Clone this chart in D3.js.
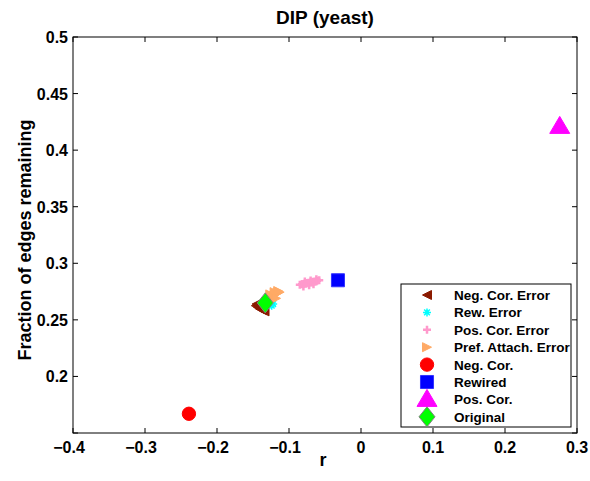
<!DOCTYPE html>
<html>
<head>
<meta charset="utf-8">
<script src="https://cdn.jsdelivr.net/npm/d3@7"></script>
<style>
  html, body { margin: 0; padding: 0; background: #fff; }
  svg text { font-family: "Liberation Sans", Arial, Helvetica, sans-serif; font-weight: bold; }
</style>
</head>
<body>
<svg id="chart" width="590" height="481"></svg>
<script>
// Assortativity r vs. fraction of edges remaining, DIP (yeast) network
const xTicks = [-0.4, -0.3, -0.2, -0.1, 0, 0.1, 0.2, 0.3];
const yTicks = [0.15, 0.2, 0.25, 0.3, 0.35, 0.4, 0.45, 0.5];
const yTickLabels = ["", "0.2", "0.25", "0.3", "0.35", "0.4", "0.45", "0.5"];

// error-model runs (many runs each, clustered)
const negCorErrR = [-0.146, -0.143, -0.140, -0.137, -0.134, -0.145, -0.139];
const negCorErrF = [0.2625, 0.2610, 0.2595, 0.2585, 0.2575, 0.2640, 0.2630];
const rewErrR = [-0.126, -0.124, -0.122, -0.128];
const rewErrF = [0.2635, 0.2625, 0.2640, 0.2650];
const posCorErrR = [-0.085, -0.082, -0.079, -0.076, -0.073, -0.070, -0.067, -0.064, -0.061, -0.058, -0.080, -0.072, -0.066, -0.078, -0.070, -0.062];
const posCorErrF = [0.2810, 0.2815, 0.2820, 0.2825, 0.2828, 0.2832, 0.2836, 0.2840, 0.2845, 0.2850, 0.2795, 0.2805, 0.2815, 0.2840, 0.2848, 0.2858];
const prefErrR = [-0.128, -0.125, -0.122, -0.119, -0.116, -0.113, -0.126, -0.120, -0.115, -0.124, -0.118];
const prefErrF = [0.2680, 0.2695, 0.2710, 0.2725, 0.2735, 0.2745, 0.2725, 0.2745, 0.2755, 0.2670, 0.2690];

// single-value models
const negCorR = [-0.239], negCorF = [0.167];
const rewiredR = [-0.032], rewiredF = [0.285];
const posCorR = [0.276], posCorF = [0.421];
const originalR = [-0.133], originalF = [0.265];

const legendLabels = ["Neg. Cor. Error", "Rew. Error", "Pos. Cor. Error", "Pref. Attach. Error",
                      "Neg. Cor.", "Rewired", "Pos. Cor.", "Original"];

const svg = d3.select("#chart");
const m = { left: 73, right: 577, top: 37, bottom: 433 };
const x = d3.scaleLinear().domain([-0.4, 0.3]).range([m.left, m.right]);
const y = d3.scaleLinear().domain([0.15, 0.5]).range([m.bottom, m.top]);

// marker shapes
const tri = (dir, s) => { // pointing left (-1) or right (+1)
  const h = s / 2;
  return `M${dir * h},0L${-dir * h},${-h}L${-dir * h},${h}Z`;
};
const plus = s => { const h = s / 2; return `M${-h},0L${h},0M0,${-h}L0,${h}`; };
const star = s => {
  const h = s / 2, d = h * 0.707;
  return `M${-h},0L${h},0M0,${-h}L0,${h}M${-d},${-d}L${d},${d}M${-d},${d}L${d},${-d}`;
};
const symPath = (type, size) => d3.symbol().type(type).size(size)();

const styles = [
  { path: tri(-1, 9), fill: "#8b1a00", stroke: "#8b1a00", sw: 1 },
  { path: star(8), fill: "none", stroke: "#00ffff", sw: 1.5 },
  { path: plus(8), fill: "none", stroke: "#ff99cc", sw: 2.5 },
  { path: tri(1, 9), fill: "#ffaa66", stroke: "#ffaa66", sw: 1 },
  { path: symPath(d3.symbolCircle, 140), fill: "#ff0000", stroke: "#ff0000", sw: 1 },
  { path: symPath(d3.symbolSquare, 170), fill: "#0000ff", stroke: "#3333ff", sw: 1 },
  { path: "M0,-10L10,7L-10,7Z", fill: "#ff00ff", stroke: "#ff00ff", sw: 1 },
  { path: "M0,-10L8,0L0,10L-8,0Z", fill: "#00ff00", stroke: "#808080", sw: 1 }
];

const series = [
  [negCorErrR, negCorErrF], [rewErrR, rewErrF], [posCorErrR, posCorErrF], [prefErrR, prefErrF],
  [negCorR, negCorF], [rewiredR, rewiredF], [posCorR, posCorF], [originalR, originalF]
];

// axes frame
svg.append("rect").attr("x", m.left).attr("y", m.top)
  .attr("width", m.right - m.left).attr("height", m.bottom - m.top)
  .attr("fill", "none").attr("stroke", "#000").attr("stroke-width", 1);

const tickLen = 5;
const axes = svg.append("g");
xTicks.forEach(t => {
  axes.append("line").attr("x1", x(t)).attr("x2", x(t)).attr("y1", m.bottom).attr("y2", m.bottom - tickLen).attr("stroke", "#000");
  axes.append("line").attr("x1", x(t)).attr("x2", x(t)).attr("y1", m.top).attr("y2", m.top + tickLen).attr("stroke", "#000");
  axes.append("text").attr("x", x(t) - (t < 0 ? 4 : 0)).attr("y", 453).attr("text-anchor", "middle")
    .attr("font-size", 16).text(t === 0 ? "0" : (t < 0 ? "\u2212" + Math.abs(t) : String(t)));
});
yTicks.forEach((t, i) => {
  axes.append("line").attr("x1", m.left).attr("x2", m.left + tickLen).attr("y1", y(t)).attr("y2", y(t)).attr("stroke", "#000");
  axes.append("line").attr("x1", m.right).attr("x2", m.right - tickLen).attr("y1", y(t)).attr("y2", y(t)).attr("stroke", "#000");
  axes.append("text").attr("x", m.left - 5).attr("y", y(t) + 6).attr("text-anchor", "end")
    .attr("font-size", 16).text(yTickLabels[i]);
});

// data markers
series.forEach(([rs, fs], i) => {
  const st = styles[i];
  svg.append("g").selectAll("path").data(rs.map((r, j) => [r, fs[j]])).join("path")
    .attr("transform", d => `translate(${x(d[0])},${y(d[1])})`)
    .attr("d", st.path).attr("fill", st.fill).attr("stroke", st.stroke).attr("stroke-width", st.sw);
});

// titles
svg.append("text").attr("x", (m.left + m.right) / 2).attr("y", 24).attr("text-anchor", "middle")
  .attr("font-size", 19).text("DIP (yeast)");
svg.append("text").attr("x", (m.left + m.right) / 2 - 2).attr("y", 466).attr("text-anchor", "middle")
  .attr("font-size", 18).text("r");
svg.append("text").attr("transform", `translate(31,240) rotate(-90)`)
  .attr("text-anchor", "middle").attr("font-size", 18).text("Fraction of edges remaining");

// legend
const lg = svg.append("g");
lg.append("rect").attr("x", 401).attr("y", 284).attr("width", 170).attr("height", 143)
  .attr("fill", "#fff").attr("stroke", "#000").attr("stroke-width", 1);
legendLabels.forEach((lab, i) => {
  const cy = 295 + i * 17.4;
  const st = styles[i];
  lg.append("path").attr("transform", `translate(427,${cy})`).attr("d", st.path)
    .attr("fill", st.fill).attr("stroke", st.stroke).attr("stroke-width", st.sw);
  lg.append("text").attr("x", 454).attr("y", cy + 5).attr("font-size", 13.5).text(lab);
});
</script>
</body>
</html>
